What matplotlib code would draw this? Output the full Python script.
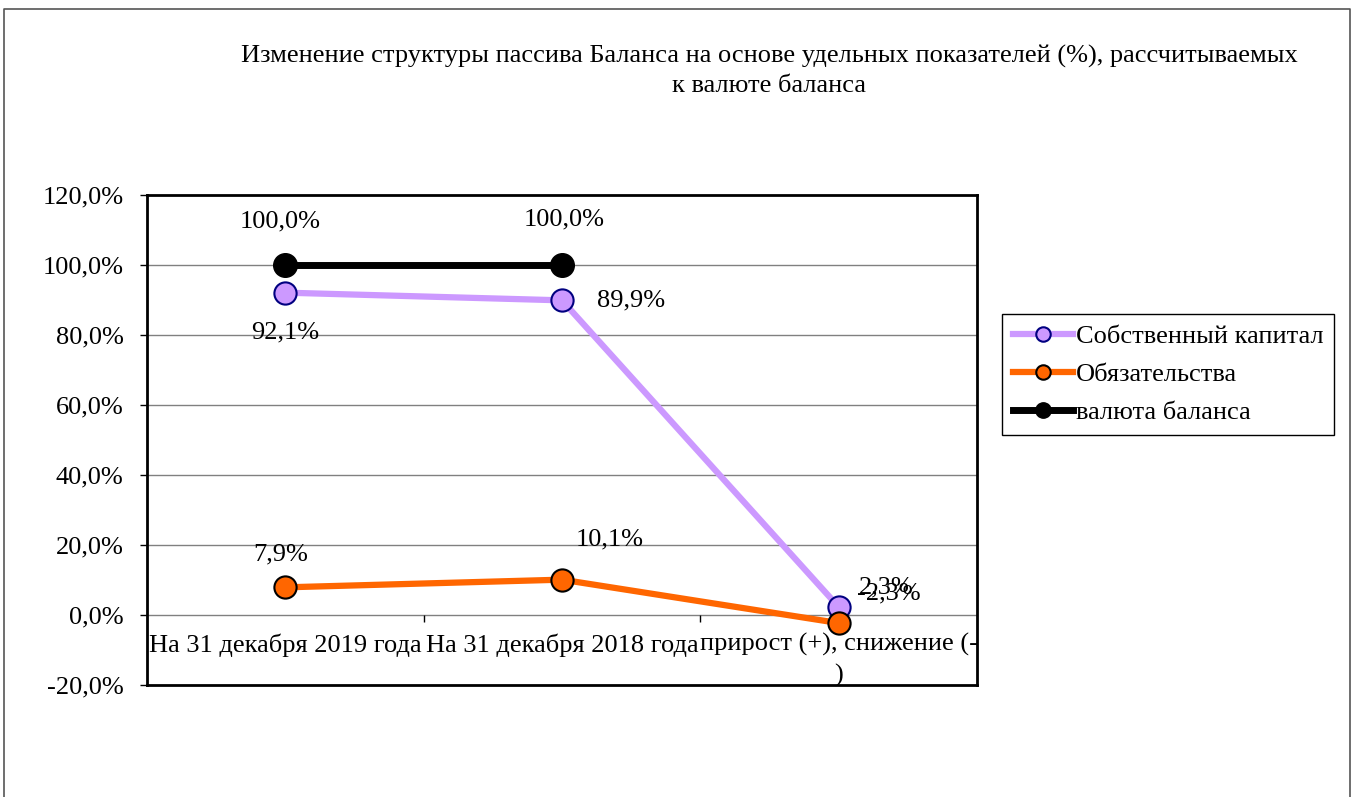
import numpy as np
import matplotlib.pyplot as plt
from matplotlib.lines import Line2D

plt.rcParams['font.family'] = ['Liberation Serif', 'DejaVu Serif']
plt.rcParams['font.size'] = 19

categories = ["На 31 декабря 2019 года", "На 31 декабря 2018 года",
              "прирост (+), снижение (-\n)"]
own_capital = [92.1, 89.9, 2.3]
liabilities = [7.9, 10.1, -2.3]
balance_total = [100.0, 100.0]
yticks = [-20, 0, 20, 40, 60, 80, 100, 120]

fig = plt.figure(figsize=(13.54, 7.97), dpi=100)

# outer chart frame (bottom edge is cut off)
fig.add_artist(Line2D([4/1354, 4/1354, 1350/1354, 1350/1354], [0, 1-9/797, 1-9/797, 0],
                      transform=fig.transFigure, color='#555555', lw=1.2))

ax = fig.add_axes([147/1354, 1-685/797, 830/1354, 490/797])
ax.set_xlim(-0.5, 2.5)
ax.set_ylim(-20, 120)
ax.set_yticks(yticks)
ax.set_yticklabels([f"{v:.1f}%".replace('.', ',') for v in yticks])
ax.tick_params(axis='y', length=5, width=1, pad=12)
ax.set_xticks([])
for s in ax.spines.values():
    s.set_linewidth(2)
for v in yticks[1:-1]:
    ax.axhline(v, color='#808080', lw=1, zorder=0)

# category axis sits on the zero line
sec = ax.secondary_xaxis(20/140)
sec.spines['bottom'].set_visible(False)
sec.set_xticks(range(3))
sec.set_xticklabels(categories, linespacing=1.45)
sec.set_xticks([0.5, 1.5], minor=True)
sec.tick_params(axis='x', which='major', length=0, pad=13)
sec.tick_params(axis='x', which='minor', length=5, width=1, direction='out')

x = np.arange(3)
ax.plot(x, own_capital, color='#CC99FF', lw=4.5, marker='o', ms=16,
        mfc='#CC99FF', mec='#000080', mew=1.5, label='Собственный капитал', zorder=3)
ax.plot(x, liabilities, color='#FF6600', lw=4.5, marker='o', ms=16,
        mfc='#FF6600', mec='black', mew=1.5, label='Обязательства', zorder=3)
ax.plot(x[:2], balance_total, color='black', lw=5, marker='o', ms=17,
        mfc='black', mec='black', label='валюта баланса', zorder=3)

def fmt(v):
    return f"{v:.1f}%".replace('.', ',')

own_off = [(0, -29), (50, 0), (34, 14)]
liab_off = [(-3, 24), (34, 29), (36, 21)]
tot_off = [(-4, 31), (1.5, 33)]
for i, v in enumerate(own_capital):
    ax.annotate(fmt(v), (i, v), xytext=own_off[i], textcoords='offset points',
                ha='center', va='center')
for i, v in enumerate(liabilities):
    ax.annotate(fmt(v), (i, v), xytext=liab_off[i], textcoords='offset points',
                ha='center', va='center')
for i, v in enumerate(balance_total):
    ax.annotate(fmt(v), (i, v), xytext=tot_off[i], textcoords='offset points',
                ha='center', va='center')

fig.text(0.568, 1-71/797,
         "Изменение структуры пассива Баланса на основе удельных показателей (%), рассчитываемых\nк валюте баланса",
         ha='center', va='center', multialignment='center', linespacing=1.45)

leg = fig.legend(loc='upper left', bbox_to_anchor=(1002/1354, 1-314/797),
                 fancybox=False, edgecolor='black', framealpha=1, markerscale=0.65,
                 handlelength=2.3, handletextpad=0.1, labelspacing=0.55,
                 borderpad=0.4, borderaxespad=0)
leg.get_frame().set_linewidth(1)

fig.savefig('out.png', dpi=100)
